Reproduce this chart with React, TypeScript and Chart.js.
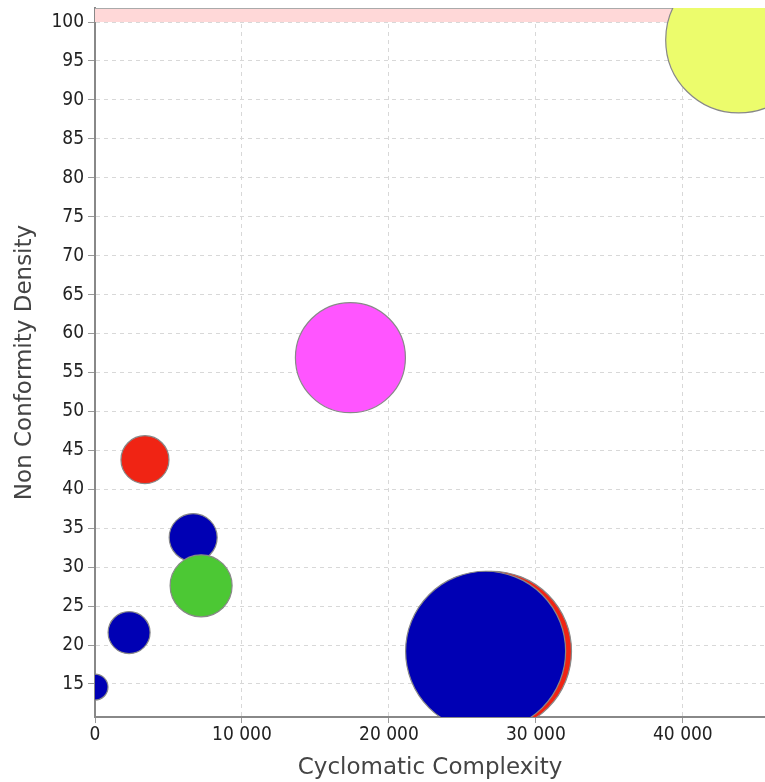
import React, { useEffect, useRef } from "react";
import { Chart, registerables } from "chart.js";

Chart.register(...registerables);

const xValues = [43800, 17380, 3400, 6680, 7220, 2320, 0, 26980, 26580];
const yValues = [97.7, 56.9, 43.8, 33.8, 27.6, 21.6, 14.6, 19.2, 19.2];
const radii = [73, 55, 24, 24, 31, 21, 13, 80, 80];
const colors = ["#ecfc6c", "#ff55ff", "#f02414", "#0000b4", "#4cc834", "#0000b4", "#0000b4", "#f02414", "#0000b4"];
const yTicks = [15, 20, 25, 30, 35, 40, 45, 50, 55, 60, 65, 70, 75, 80, 85, 90, 95, 100];
const xTicks = [0, 10000, 20000, 30000, 40000];
const xMin = 0;
const xMax = 45590;
const yMin = 10.76;
const yMax = 101.8;
const bandFrom = 100;

const bandPlugin = {
  id: "band",
  beforeDatasetsDraw(chart: any) {
    const { ctx, chartArea, scales } = chart;
    const yTop = chartArea.top;
    const yB = scales.y.getPixelForValue(bandFrom);
    ctx.save();
    ctx.fillStyle = "#ffd8d8";
    ctx.fillRect(chartArea.left, yTop, chartArea.right - chartArea.left, yB - yTop);
    ctx.strokeStyle = "#aaa";
    ctx.lineWidth = 1;
    ctx.beginPath();
    ctx.moveTo(chartArea.left, yTop + 0.5);
    ctx.lineTo(chartArea.right, yTop + 0.5);
    ctx.stroke();
    ctx.restore();
  },
};

const tickFont = { family: "DejaVu Sans Condensed, DejaVu Sans", size: 19 };
const titleFont = { family: "DejaVu Sans", size: 23 };

export default function App() {
  const ref = useRef<HTMLCanvasElement>(null);
  useEffect(() => {
    document.body.style.margin = "0";
    const data = xValues.map((x, i) => ({ x, y: yValues[i], r: radii[i] }));
    const chart = new Chart(ref.current!, {
      type: "bubble",
      data: {
        datasets: [
          {
            data,
            backgroundColor: colors,
            borderColor: "#888",
            borderWidth: 1.2,
            clip: 0,
          } as any,
        ],
      },
      plugins: [bandPlugin],
      options: {
        animation: false,
        responsive: false,
        maintainAspectRatio: false,
        layout: { autoPadding: false, padding: { top: 8, left: 0, right: 0, bottom: 0 } } as any,
        plugins: { legend: { display: false }, tooltip: { enabled: false } },
        scales: {
          x: {
            type: "linear",
            min: xMin,
            max: xMax,
            afterBuildTicks: (s: any) => {
              s.ticks = xTicks.map((v) => ({ value: v }));
            },
            afterFit: (s: any) => {
              s.height = 65;
              s.paddingLeft = 0;
              s.paddingRight = 0;
            },
            grid: {
              color: "#d8d8d8",
              tickColor: "#999",
              tickLength: 6,
              drawTicks: true,
            },
            border: { color: "#888", width: 2, dash: [4, 4] },
            ticks: {
              color: "#222",
              padding: 1,
              maxRotation: 0,
              font: tickFont,
              callback: (v: any) => String(v).replace(/\B(?=(\d{3})+(?!\d))/g, " "),
            },
            title: {
              display: true,
              text: "Cyclomatic Complexity",
              color: "#444",
              font: titleFont,
              padding: { top: 0, bottom: 0 },
            },
          },
          y: {
            type: "linear",
            min: yMin,
            max: yMax,
            afterBuildTicks: (s: any) => {
              s.ticks = yTicks.map((v) => ({ value: v }));
            },
            afterFit: (s: any) => {
              s.width = 95;
              s.paddingTop = 0;
              s.paddingBottom = 0;
            },
            grid: {
              color: "#d8d8d8",
              tickColor: "#999",
              tickLength: 7,
              drawTicks: true,
            },
            border: { color: "#888", width: 2, dash: [4, 4] },
            ticks: {
              color: "#222",
              padding: 4,
              font: tickFont,
            },
            title: {
              display: true,
              text: "Non Conformity Density",
              color: "#444",
              font: titleFont,
              padding: { top: 11, bottom: 0 },
            },
          },
        },
      },
    });
    return () => chart.destroy();
  }, []);
  return (
    <div style={{ width: 765, height: 782 }}>
      <canvas ref={ref} width={765} height={782} style={{ display: "block" }} />
    </div>
  );
}
